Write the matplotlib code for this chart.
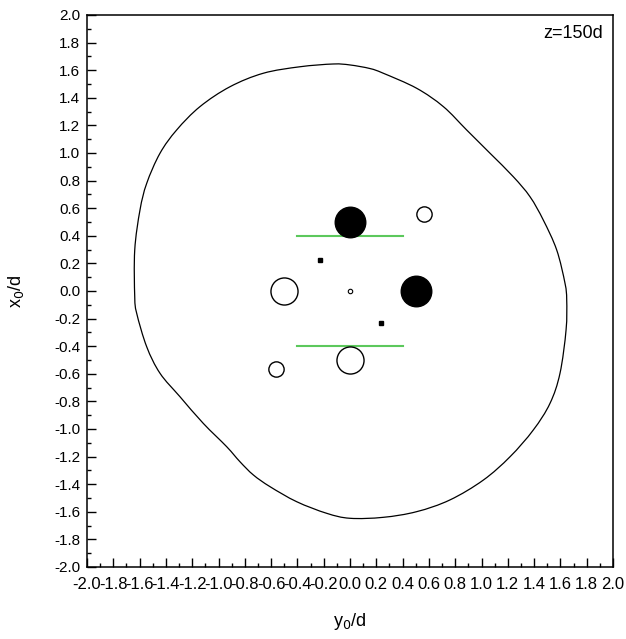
import matplotlib
matplotlib.use('agg')
import matplotlib.pyplot as plt
from matplotlib.path import Path
from matplotlib.patches import PathPatch
import numpy as np

plt.rcParams['font.family'] = ['Liberation Sans', 'DejaVu Sans']
plt.rcParams['axes.unicode_minus'] = False

# outer boundary, traced clockwise from top (y0/d, x0/d)
boundary_y = [0.0, 0.152, 0.253, 0.507, 0.710, 0.887, 1.065, 1.242, 1.369, 1.470,
              1.572, 1.635, 1.648, 1.643, 1.597, 1.521, 1.394, 1.217, 1.014, 0.760,
              0.507, 0.253, 0.0, -0.177, -0.405, -0.608, -0.735, -0.837, -0.938, -1.116,
              -1.293, -1.445, -1.546, -1.622, -1.637, -1.637, -1.597, -1.546, -1.445, -1.318,
              -1.141, -0.913, -0.659, -0.380, -0.127]
boundary_x = [1.638, 1.612, 1.578, 1.469, 1.336, 1.167, 0.998, 0.828, 0.683, 0.514,
              0.297, 0.056, -0.065, -0.283, -0.596, -0.814, -1.007, -1.201, -1.370, -1.514,
              -1.599, -1.640, -1.647, -1.611, -1.527, -1.418, -1.333, -1.237, -1.128, -0.959,
              -0.766, -0.596, -0.404, -0.162, -0.041, 0.297, 0.587, 0.780, 0.998, 1.167,
              1.336, 1.480, 1.578, 1.625, 1.645]

# filled (large) circles
filled_y = [0.0, 0.5]
filled_x = [0.5, 0.0]
# open circles, large
open_y = [-0.5, 0.0]
open_x = [0.0, -0.5]
# open circles, small
small_y = [0.56, -0.56]
small_x = [0.56, -0.565]
# tiny circle at centre
tiny_y = [0.0]
tiny_x = [0.0]
# dots
dot_y = [-0.225, 0.232]
dot_x = [0.225, -0.235]
# green segments
seg_y = [-0.4, 0.4]
seg_levels = [0.4, -0.4]


def smooth_closed_path(xs, ys):
    # closed curve through the traced points, drawn as cubic bezier pieces
    p = np.column_stack([xs, ys])
    n = len(p)
    verts = [p[0]]
    codes = [Path.MOVETO]
    for i in range(n):
        p0, p1, p2, p3 = p[i - 1], p[i], p[(i + 1) % n], p[(i + 2) % n]
        verts += [p1 + (p2 - p0) / 6, p2 - (p3 - p1) / 6, p2]
        codes += [Path.CURVE4] * 3
    return Path(verts, codes)


fig = plt.figure(figsize=(6.26, 6.39), dpi=100)
ax = fig.add_axes([87/626, 72/639, 526/626, 552/639])

ax.add_patch(PathPatch(smooth_closed_path(boundary_y, boundary_x),
                       facecolor='none', edgecolor='black', lw=0.9))
for lev in seg_levels:
    ax.plot(seg_y, [lev, lev], color='#5cc85c', lw=1.5, zorder=2)
ax.plot(filled_y, filled_x, 'o', color='black', ms=22, zorder=3)
ax.plot(open_y, open_x, 'o', mfc='none', mec='black', mew=1.0, ms=19.5, zorder=3)
ax.plot(small_y, small_x, 'o', mfc='none', mec='black', mew=1.0, ms=11, zorder=3)
ax.plot(tiny_y, tiny_x, 'o', mfc='none', mec='black', mew=0.8, ms=3.2, zorder=3)
ax.plot(dot_y, dot_x, 's', color='black', ms=2.2, zorder=3)

ax.set_xlim(-2, 2)
ax.set_ylim(-2, 2)
ticks = np.round(np.arange(-2.0, 2.01, 0.2), 1) + 0.0
labels = ['%.1f' % abs(t) if abs(t) < 1e-9 else '%.1f' % t for t in ticks]
ax.set_xticks(ticks)
ax.set_yticks(ticks)
ax.set_xticklabels(labels, fontsize=12)
ax.set_yticklabels(labels, fontsize=11)
ax.set_xticks(np.arange(-1.9, 2.0, 0.2), minor=True)
ax.set_yticks(np.arange(-1.9, 2.0, 0.2), minor=True)
ax.tick_params(which='both', direction='in', top=False, right=False, width=1.0)
ax.tick_params(which='major', length=6.5)
ax.tick_params(axis='x', which='major', pad=7)
ax.tick_params(axis='y', which='major', pad=5)
ax.tick_params(which='minor', length=3.2)
for sp in ax.spines.values():
    sp.set_linewidth(1.1)

ax.set_xlabel('y$_0$/d', fontsize=13, labelpad=14)
ax.set_ylabel('x$_0$/d', fontsize=13, labelpad=20)
ax.text(0.981, 0.967, 'z=150d', transform=ax.transAxes, ha='right', va='center', fontsize=13)

fig.savefig('out.png', dpi=100)
